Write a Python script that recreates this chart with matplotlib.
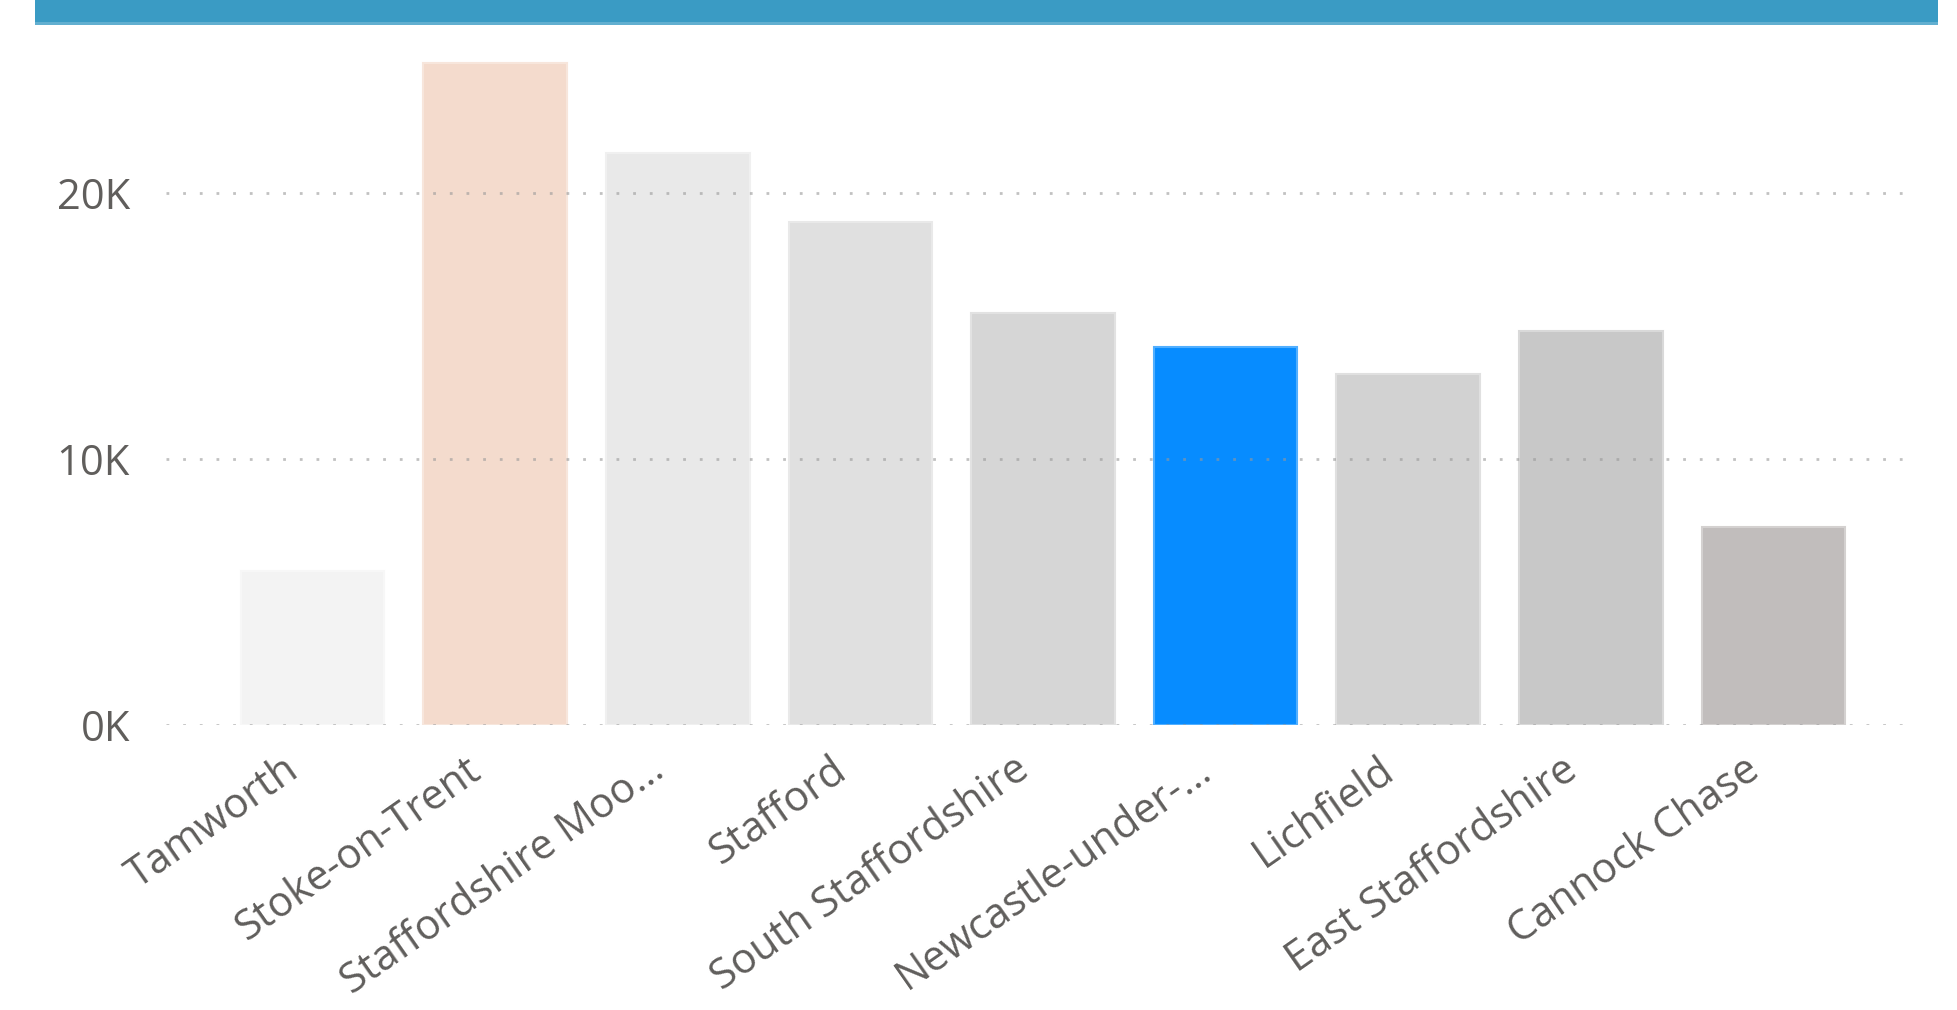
import matplotlib
matplotlib.use("Agg")
import matplotlib.pyplot as plt
from matplotlib.patches import Rectangle
from matplotlib.transforms import ScaledTranslation
import matplotlib.colors as mcolors

# ---- data ----
categories = ["Tamworth", "Stoke-on-Trent", "Staffordshire Moo…", "Stafford",
              "South Staffordshire", "Newcastle-under-…", "Lichfield",
              "East Staffordshire", "Cannock Chase"]
values = [5800, 24900, 21500, 18900, 15500, 14200, 13200, 14800, 7450]
bar_colors = ["#F3F3F3", "#F4DBCD", "#E9E9E9", "#E0E0E0", "#D6D6D6",
              "#078CFF", "#D2D2D2", "#C8C8C8", "#C1BDBC"]
ytick_vals = [0, 10000, 20000]
ytick_labels = ["0K", "10K", "20K"]

plt.rcParams['font.family'] = ['Open Sans', 'DejaVu Sans']

W, H = 1957, 1010
fig = plt.figure(figsize=(W / 100, H / 100), dpi=100)

# header band
fig.patches.append(Rectangle((35 / W, 1 - 22 / H), (1938 - 35) / W, 22 / H,
                             transform=fig.transFigure, facecolor="#3A9BC4",
                             edgecolor="none"))
fig.patches.append(Rectangle((35 / W, 1 - 25 / H), (1938 - 35) / W, 3 / H,
                             transform=fig.transFigure, facecolor="#62AFD0",
                             edgecolor="none"))

left, right = 166 / W, 1912 / W
bottom = 1 - 725 / H
top_px = 725 - 2.6 * 266
ax = fig.add_axes([left, bottom, right - left, (725 - top_px) / H])

x = list(range(len(categories)))
edge_cols = []
for c in bar_colors:
    r, g, b = mcolors.to_rgb(c)
    edge_cols.append((r + (1 - r) * 0.3, g + (1 - g) * 0.3, b + (1 - b) * 0.3))
ax.bar(x, values, width=0.786, color=bar_colors, edgecolor=edge_cols,
       linewidth=1.5, zorder=1)

ax.set_xlim(-0.803, 8.759)
ax.set_ylim(0, 26000)

ax.set_yticks(ytick_vals)
ax.set_yticklabels(ytick_labels)
for yv in ytick_vals:
    ax.axhline(yv, color="#999999", alpha=0.6, linewidth=2,
               linestyle=(0, (1, 5)), zorder=3)

for s in ax.spines.values():
    s.set_visible(False)

ax.tick_params(axis="y", length=0, pad=26, labelsize=30, labelcolor="#605E5C")
ax.tick_params(axis="x", length=0, pad=17, labelsize=30, labelcolor="#605E5C")
ax.set_xticks(x)
ax.set_xticklabels(categories, rotation=35, ha="right", va="top",
                   rotation_mode="anchor")
offset = ScaledTranslation(-30 / 100, 0, fig.dpi_scale_trans)
for lab in ax.get_xticklabels():
    lab.set_transform(lab.get_transform() + offset)

fig.savefig("out.png", dpi=100, facecolor="white")
